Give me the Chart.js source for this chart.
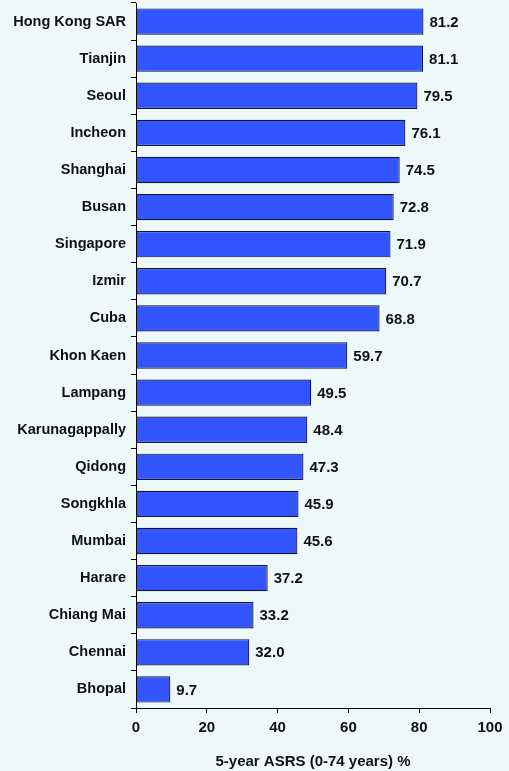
<!DOCTYPE html>
<html><head><meta charset="utf-8">
<script src="https://cdn.jsdelivr.net/npm/chart.js@4"></script>
<style>html,body{margin:0;padding:0;background:#edf8f8;}#wrap{width:509px;height:771px;}</style>
</head><body><div id="wrap"><canvas id="c" width="509" height="771"></canvas></div>
<script>
const categories = ["Hong Kong SAR","Tianjin","Seoul","Incheon","Shanghai","Busan","Singapore","Izmir","Cuba","Khon Kaen","Lampang","Karunagappally","Qidong","Songkhla","Mumbai","Harare","Chiang Mai","Chennai","Bhopal"];
const values = [81.2,81.1,79.5,76.1,74.5,72.8,71.9,70.7,68.8,59.7,49.5,48.4,47.3,45.9,45.6,37.2,33.2,32.0,9.7];
const xTicks = [0,20,40,60,80,100];
const axisTitle = "5-year ASRS (0-74 years) %";

const FONT = "'Liberation Sans', Arial, sans-serif";
const valueLabels = {
  id:'valueLabels',
  afterDatasetsDraw(chart){
    const ctx = chart.ctx;
    const meta = chart.getDatasetMeta(0);
    ctx.save();
    ctx.font = "bold 15px " + FONT;
    ctx.fillStyle = "#111";
    ctx.textBaseline = "middle";
    ctx.textAlign = "left";
    meta.data.forEach((bar,i)=>{
      ctx.fillText(values[i].toFixed(1), bar.x + 6, bar.y + 1);
    });
    ctx.restore();
  }
};
new Chart(document.getElementById('c'), {
  type:'bar',
  data:{labels:categories, datasets:[{data:values, backgroundColor:'#3355ff', borderColor:'#151530', borderWidth:1.2, borderSkipped:false, categoryPercentage:1, barPercentage:0.71}]},
  options:{
    indexAxis:'y', responsive:false, animation:false, devicePixelRatio:1,
    layout:{padding:{top:3,right:19,left:0,bottom:0}},
    plugins:{legend:{display:false}, tooltip:{enabled:false}},
    scales:{
      x:{min:0,max:100,
        afterBuildTicks(s){ s.ticks = xTicks.map(v=>({value:v})); },
        afterFit(s){ s.height = 63; s.paddingLeft = 0; s.paddingRight = 0; },
        grid:{drawOnChartArea:false, drawTicks:true, tickLength:5, color:'#000', tickColor:'#000'},
        border:{display:true,color:'#000',width:1},
        ticks:{color:'#111', font:{family:FONT, size:15, weight:'bold'}, padding:6, maxRotation:0},
        title:{display:true, text:axisTitle, color:'#111', font:{family:FONT, size:15, weight:'bold'}, padding:{top:7,bottom:0}}
      },
      y:{
        afterFit(s){ s.width = 136; s.paddingTop = 0; s.paddingBottom = 0; },
        grid:{drawOnChartArea:false, drawTicks:true, tickLength:5, color:'#000', tickColor:'#000', offset:true},
        border:{display:true,color:'#000',width:1},
        ticks:{color:'#111', font:{family:FONT, size:14.5, weight:'bold'}, padding:5, autoSkip:false}
      }
    }
  },
  plugins:[valueLabels, {id:'bg', beforeDraw(c){const x=c.ctx; x.save(); x.fillStyle='#edf8f8'; x.fillRect(0,0,c.width,c.height); x.restore();}}]
});
</script></body></html>
